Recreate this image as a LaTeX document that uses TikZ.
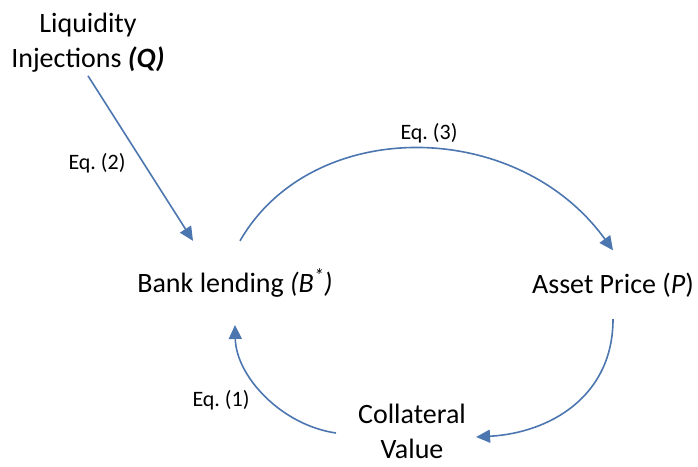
\documentclass[tikz,border=0pt]{standalone}
\usepackage{fontspec}
\setmainfont{Carlito}
\usepackage{tikz}
\usetikzlibrary{arrows.meta}
\definecolor{arrowblue}{RGB}{76,118,176}

\begin{document}
\begin{tikzpicture}[x=1pt,y=-1pt,
    txt/.style={font=\fontsize{28}{35}\selectfont, align=center, inner sep=0pt},
    eqlbl/.style={font=\fontsize{22}{26}\selectfont, inner sep=0pt},
    link/.style={draw=arrowblue, line width=1.6pt, -{Triangle[length=14pt,width=13pt]}}]
\useasboundingbox (0,0) rectangle (698,466);
\node[txt, inner sep=3pt] (liq) at (88,43) {Liquidity\\Injections \textbf{\textit{(Q)}}};
\node[txt, anchor=base, inner ysep=28pt] (bank) at (235,292) {Bank lending \textit{(B\textsuperscript{*})}};
\node[txt, anchor=base, inner ysep=22pt] (asset) at (613,293) {Asset Price (\textit{P})};
\node[txt, inner xsep=10pt] (coll) at (412,431) {Collateral\\Value};
\node[eqlbl] (eq2) at (97,163) {Eq.\ (2)};
\node[eqlbl] (eq3) at (429,133) {Eq.\ (3)};
\node[eqlbl] (eq1) at (221,400) {Eq.\ (1)};
\draw[link] (liq.south) -- ([xshift=-42pt]bank.north);
\draw[link] ([xshift=5pt]bank.north) .. controls +(72,-125) and +(-96,-133) .. (asset.north);
\draw[link] (asset.south) .. controls +(0,78) and +(73,-4) .. ([yshift=-6pt]coll.east);
\draw[link] ([xshift=-12pt,yshift=-2pt]coll.west) .. controls +(-55,-8) and +(1,51) .. (bank.south);
\end{tikzpicture}
\end{document}
